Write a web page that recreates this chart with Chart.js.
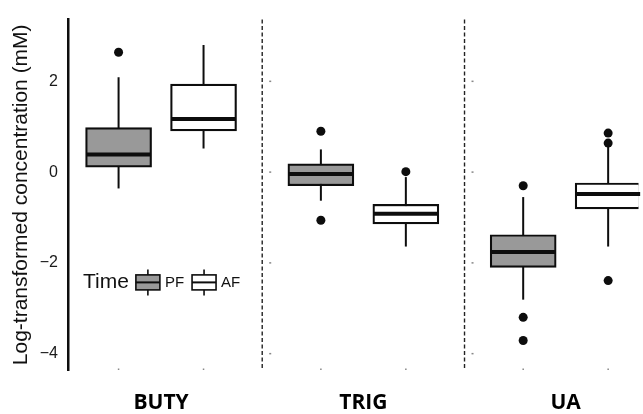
<!DOCTYPE html>
<html>
<head>
<meta charset="utf-8">
<script src="https://cdn.jsdelivr.net/npm/chart.js@4.4.1/dist/chart.umd.min.js"></script>
<style>
  html, body { margin: 0; padding: 0; background: #fff; }
  #wrap { width: 643px; height: 414px; position: relative; }
</style>
</head>
<body>
<div id="wrap"><canvas id="chart"></canvas></div>
<script>
// categories and axis ticks
const categories = ['BUTY', 'TRIG', 'UA'];
const yTicks = [-4, -2, 0, 2];

// PF (grey boxes): whisker ends, quartiles, medians, outliers
const pfLow = [-0.36, -0.63, -2.81];
const pfQ1 = [0.11, -0.30, -2.10];
const pfMed = [0.39, -0.04, -1.76];
const pfQ3 = [0.98, 0.18, -1.38];
const pfHigh = [2.09, 0.50, -0.55];
const pfOutliers = [[2.64], [0.90, -1.06], [-0.30, -3.20, -3.71]];

// AF (white boxes)
const afLow = [0.52, -1.64, -1.64];
const afQ1 = [0.91, -1.14, -0.81];
const afMed = [1.17, -0.92, -0.48];
const afQ3 = [1.94, -0.71, -0.24];
const afHigh = [2.80, -0.11, 0.60];
const afOutliers = [[], [0.01], [0.86, 0.64, -2.39]];

const dodge = 0.21;
const ink = '#0d0d0d';
const pfFill = '#999999';
const afFill = '#ffffff';

// box position for a category, side -1 = PF, +1 = AF
function boxData(q1, q3, side) {
    return categories.map((c, i) => ({ x: i + 1 + side * dodge, y: [q1[i], q3[i]] }));
}

function outlierData(list, side) {
    const pts = [];
    list.forEach((vals, i) => vals.forEach(v => pts.push({ x: i + 1 + side * dodge, y: v })));
    return pts;
}

const summaries = [
    { low: pfLow, med: pfMed, high: pfHigh },
    { low: afLow, med: afMed, high: afHigh }
];

// whiskers, medians, panel separators and the inside legend
const boxExtras = {
    id: 'boxExtras',
    beforeDatasetsDraw(chart) {
        const { ctx, chartArea, scales: { x, y } } = chart;
        ctx.save();
        // dashed lines between the panels
        ctx.strokeStyle = '#222';
        ctx.lineWidth = 1.4;
        ctx.setLineDash([4, 2.5]);
        for (let i = 1; i < categories.length; i++) {
            const px = x.getPixelForValue(i + 0.5);
            ctx.beginPath();
            ctx.moveTo(px, chartArea.top);
            ctx.lineTo(px, chartArea.bottom);
            ctx.stroke();
        }
        ctx.setLineDash([]);
        // whiskers
        ctx.strokeStyle = ink;
        ctx.lineWidth = 2;
        summaries.forEach((s, d) => {
            chart.getDatasetMeta(d).data.forEach((bar, i) => {
                ctx.beginPath();
                ctx.moveTo(bar.x, y.getPixelForValue(s.low[i]));
                ctx.lineTo(bar.x, y.getPixelForValue(s.high[i]));
                ctx.stroke();
            });
        });
        ctx.restore();
    },
    afterDatasetsDraw(chart) {
        const { ctx, scales: { y } } = chart;
        ctx.save();
        ctx.strokeStyle = ink;
        ctx.lineWidth = 4;
        summaries.forEach((s, d) => {
            chart.getDatasetMeta(d).data.forEach((bar, i) => {
                const py = y.getPixelForValue(s.med[i]);
                ctx.beginPath();
                ctx.moveTo(bar.x - bar.width / 2 + 1, py);
                ctx.lineTo(bar.x + bar.width / 2 - 1, py);
                ctx.stroke();
            });
        });
        ctx.restore();
    },
    afterDraw(chart) {
        const { ctx, chartArea, scales: { x, y } } = chart;
        ctx.save();
        // tiny tick marks of the facet axes
        ctx.fillStyle = '#888';
        [0, 1].forEach(d => {
            chart.getDatasetMeta(d).data.forEach(bar => {
                ctx.fillRect(bar.x - 0.75, chartArea.bottom - 1.5, 1.5, 1.5);
            });
        });
        for (let i = 1; i < categories.length; i++) {
            const px = x.getPixelForValue(i + 0.5) + 8;
            yTicks.forEach(v => ctx.fillRect(px - 1, y.getPixelForValue(v) - 0.75, 2, 1.5));
        }

        // legend
        let lx = chartArea.left + 15;
        const ly = chartArea.top + chartArea.height * 0.75;
        ctx.textBaseline = 'middle';
        ctx.fillStyle = '#111';
        ctx.font = '21px "Liberation Sans", Arial, sans-serif';
        ctx.fillText('Time', lx, ly);
        lx += ctx.measureText('Time').width + 7;
        const keys = [['PF', pfFill], ['AF', afFill]];
        keys.forEach(([label, fill]) => {
            ctx.strokeStyle = ink;
            ctx.lineWidth = 1.6;
            ctx.beginPath();
            ctx.moveTo(lx + 12, ly - 13);
            ctx.lineTo(lx + 12, ly + 13);
            ctx.stroke();
            ctx.fillStyle = fill;
            ctx.fillRect(lx, ly - 7.5, 24, 15);
            ctx.strokeRect(lx, ly - 7.5, 24, 15);
            ctx.lineWidth = 2;
            ctx.beginPath();
            ctx.moveTo(lx, ly);
            ctx.lineTo(lx + 24, ly);
            ctx.stroke();
            lx += 29;
            ctx.fillStyle = '#111';
            ctx.font = '15px "Liberation Sans", Arial, sans-serif';
            ctx.fillText(label, lx, ly);
            lx += ctx.measureText(label).width + 8;
        });
        ctx.restore();
    }
};

const ctx = document.getElementById('chart').getContext('2d');
new Chart(ctx, {
    type: 'bar',
    data: {
        datasets: [
            {
                label: 'PF',
                data: boxData(pfQ1, pfQ3, -1),
                backgroundColor: pfFill,
                borderColor: ink,
                borderWidth: 2.2,
                borderSkipped: false,
                grouped: false,
                barThickness: 66
            },
            {
                label: 'AF',
                data: boxData(afQ1, afQ3, 1),
                backgroundColor: afFill,
                borderColor: ink,
                borderWidth: 2.2,
                borderSkipped: false,
                grouped: false,
                barThickness: 66
            },
            {
                type: 'scatter',
                label: 'PF outliers',
                data: outlierData(pfOutliers, -1),
                pointRadius: 4.5,
                backgroundColor: ink,
                borderWidth: 0
            },
            {
                type: 'scatter',
                label: 'AF outliers',
                data: outlierData(afOutliers, 1),
                pointRadius: 4.5,
                backgroundColor: ink,
                borderWidth: 0
            }
        ]
    },
    options: {
        responsive: true,
        maintainAspectRatio: false,
        animation: false,
        layout: { padding: { top: 10, right: 0, bottom: 0, left: 0 } },
        plugins: {
            legend: { display: false },
            tooltip: { enabled: false }
        },
        scales: {
            x: {
                type: 'linear',
                min: 0.54,
                max: 3.36,
                offset: false,
                grid: { display: false, drawTicks: false },
                border: { display: false },
                afterBuildTicks: s => { s.ticks = categories.map((c, i) => ({ value: i + 1 })); },
                afterFit: s => { s.height = 44; },
                ticks: {
                    padding: 20,
                    color: '#000',
                    autoSkip: false,
                    maxRotation: 0,
                    font: { family: '"Open Sans", sans-serif', size: 21, weight: 'bold' },
                    callback: v => categories[Math.round(v) - 1] || ''
                }
            },
            y: {
                min: -4.36,
                max: 3.36,
                grid: { display: false, drawTicks: false },
                border: { display: true, color: ink, width: 2.5 },
                afterBuildTicks: s => { s.ticks = yTicks.map(v => ({ value: v })); },
                afterFit: s => { s.width = 68; },
                ticks: {
                    padding: 10,
                    color: '#1a1a1a',
                    font: { family: '"Liberation Sans", Arial, sans-serif', size: 16 },
                    callback: v => v < 0 ? '\u2212' + Math.abs(v) : String(v)
                },
                title: {
                    display: true,
                    text: 'Log-transformed concentration (mM)',
                    color: '#111',
                    font: { family: '"Liberation Sans", Arial, sans-serif', size: 21 },
                    padding: { top: 9, bottom: 0 }
                }
            }
        }
    },
    plugins: [boxExtras]
});
</script>
</body>
</html>
